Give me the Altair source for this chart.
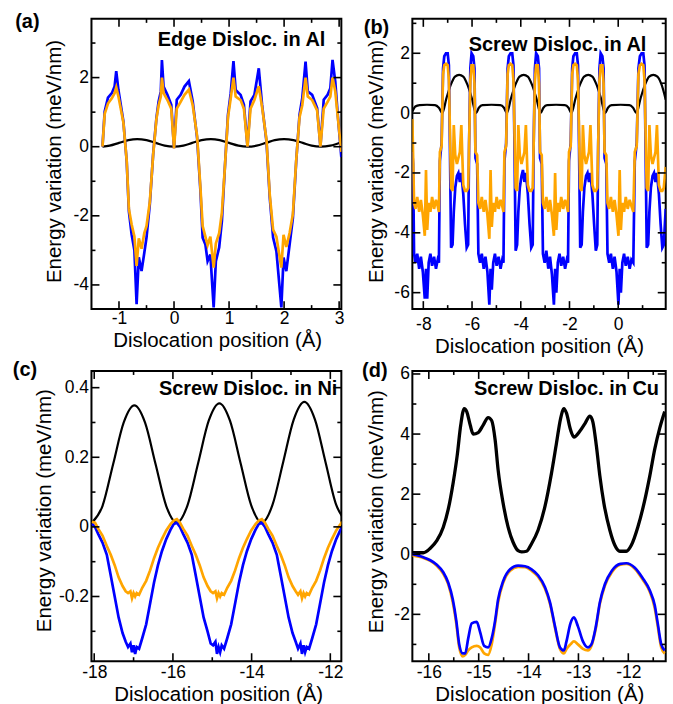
import altair as alt
import pandas as pd

FONT = "Liberation Sans"
BLUE = "#0000ff"
ORANGE = "#ffa500"
BLACK = "#000000"

XTITLE = "Dislocation position (Å)"
YTITLE = "Energy variation (meV/nm)"
panel_titles = ["Edge Disloc. in Al", "Screw Disloc. in Al", "Screw Disloc. in Ni", "Screw Disloc. in Cu"]
panel_labels = ["(a)", "(b)", "(c)", "(d)"]

# ---------------- panel (a) ----------------
a_xmaj = [-1, 0, 1, 2, 3]
a_xmin = [-0.5, 0.5, 1.5, 2.5]
a_ymaj = [-4, -2, 0, 2]
a_ymin = [-3, -1, 1, 3]

a_black_x = [-1.30, -1.17, -1.00, -0.83, -0.67, -0.50, -0.33, -0.17, 0.00, 0.17, 0.33, 0.50, 0.67, 0.83,
             1.00, 1.17, 1.335, 1.50, 1.67, 1.83, 2.00, 2.17, 2.34, 2.50, 2.67, 2.84, 3.04]
a_black_y = [0.0, 0.03, 0.11, 0.19, 0.22, 0.19, 0.11, 0.03, 0.0, 0.03, 0.11, 0.19, 0.22, 0.19,
             0.11, 0.03, 0.0, 0.03, 0.11, 0.19, 0.22, 0.19, 0.11, 0.03, 0.0, 0.03, 0.13]

a_x = [-1.30, -1.26, -1.20, -1.13, -1.08, -1.05, -1.01, -0.92, -0.86, -0.82, -0.77, -0.72, -0.68, -0.64,
       -0.59, -0.54, -0.50, -0.44, -0.38, -0.32, -0.28, -0.24, -0.22, -0.19, -0.12, -0.05,
       0.0, 0.05, 0.12, 0.19, 0.27, 0.34, 0.42, 0.48, 0.52, 0.57, 0.61, 0.66, 0.72, 0.76,
       0.82, 0.87, 0.92, 0.98, 1.03, 1.08, 1.12, 1.21, 1.27,
       1.335, 1.39, 1.46, 1.54, 1.60, 1.68, 1.74, 1.80, 1.86, 1.95, 1.99, 2.04, 2.10, 2.16,
       2.22, 2.28, 2.33, 2.39, 2.43, 2.51, 2.60,
       2.66, 2.72, 2.79, 2.84, 2.88, 2.93, 2.97, 3.04]
a_blue = [0.0, 1.02, 1.42, 1.55, 1.74, 2.19, 1.64, 0.73, -0.42, -1.87, -2.54, -3.0, -4.56, -3.2,
          -3.6, -3.07, -2.63, -1.67, -0.23, 0.83, 1.31, 1.6, 2.51, 1.74, 1.5, 1.21,
          -0.04, 1.36, 1.5, 1.74, 1.9, 1.31, 0.25, -1.29, -2.63, -2.83, -3.31, -3.12, -4.65, -3.31,
          -2.92, -2.15, -0.71, 0.92, 1.55, 2.48, 1.64, 1.5, 1.21,
          0.0, 1.31, 1.5, 2.27, 1.21, 0.15, -1.48, -2.63, -3.02, -4.65, -3.21, -3.6, -2.83, -2.06,
          -0.42, 0.92, 1.4, 2.46, 1.6, 1.5, 1.12,
          0.0, 1.36, 1.5, 1.69, 2.51, 1.88, 1.02, -0.3]
a_orange = [0.0, 0.95, 1.25, 1.4, 1.55, 1.72, 1.45, 0.7, -0.4, -1.8, -2.25, -2.6, -3.45, -2.65,
            -2.95, -2.5, -2.3, -1.6, -0.25, 0.8, 1.2, 1.45, 2.0, 1.55, 1.35, 1.1,
            -0.05, 1.1, 1.3, 1.5, 1.65, 1.2, 0.3, -1.2, -2.3, -2.6, -2.85, -2.6, -3.5, -2.8,
            -2.5, -1.9, -0.7, 0.85, 1.4, 2.0, 1.45, 1.35, 1.1,
            0.0, 1.1, 1.35, 1.75, 1.15, 0.2, -1.4, -2.4, -2.6, -3.5, -2.55, -2.9, -2.5, -1.95,
            -0.4, 0.85, 1.2, 2.0, 1.45, 1.35, 1.05,
            0.0, 1.1, 1.3, 1.45, 2.0, 1.6, 0.95, -0.15]

# ---------------- panel (b) ----------------
b_xmaj = [-8, -6, -4, -2, 0]
b_xmin = [-7, -5, -3, -1, 1]
b_ymaj = [-6, -4, -2, 0, 2]
b_ymin = [-5, -3, -1, 1, 3]

b_black_x = [-8.45, -8.33, -8.15, -7.85, -7.52, -7.36,
             -7.22, -7.05, -6.87, -6.70, -6.53, -6.36, -6.19, -6.01,
             -5.84, -5.72, -5.57, -5.20, -4.84, -4.69,
             -4.57, -4.40, -4.22, -4.05, -3.88, -3.71, -3.54, -3.36,
             -3.19, -3.07, -2.92, -2.55, -2.19, -2.04,
             -1.92, -1.75, -1.57, -1.40, -1.23, -1.06, -0.89, -0.71,
             -0.54, -0.42, -0.27, 0.10, 0.46, 0.61,
             0.75, 0.92, 1.10, 1.27, 1.44, 1.61, 1.78, 1.95]
b_black_y = [0.05, 0.22, 0.27, 0.28, 0.27, 0.18,
             0.0, 0.5, 0.95, 1.22, 1.28, 1.22, 0.95, 0.5,
             0.0, 0.18, 0.27, 0.28, 0.27, 0.18,
             0.0, 0.5, 0.95, 1.22, 1.28, 1.22, 0.95, 0.5,
             0.0, 0.18, 0.27, 0.28, 0.27, 0.18,
             0.0, 0.5, 0.95, 1.22, 1.28, 1.22, 0.95, 0.5,
             0.0, 0.18, 0.27, 0.28, 0.27, 0.18,
             0.0, 0.5, 0.95, 1.22, 1.28, 1.22, 0.95, 0.45]

b_x = [-8.45, -8.42, -8.38, -8.32, -8.25, -8.17, -8.10, -8.02, -7.94, -7.89, -7.84, -7.78, -7.71, -7.64,
       -7.56, -7.48, -7.41,
       -7.36, -7.32, -7.25, -7.19, -7.14, -7.07, -7.00, -6.95, -6.91, -6.86, -6.80, -6.75, -6.69, -6.62,
       -6.56, -6.50, -6.44, -6.36, -6.29, -6.22, -6.16, -6.12, -6.07, -6.02, -5.95, -5.90, -5.86, -5.79,
       -5.74, -5.67, -5.60, -5.52, -5.45, -5.37, -5.29, -5.24, -5.19, -5.13, -5.06, -4.99, -4.91, -4.83,
       -4.76,
       -4.71, -4.67, -4.60, -4.54, -4.49, -4.42, -4.35, -4.30, -4.26, -4.21, -4.15, -4.10, -4.04, -3.97,
       -3.91, -3.85, -3.79, -3.71, -3.64, -3.57, -3.51, -3.47, -3.42, -3.37, -3.30, -3.25, -3.21, -3.14,
       -3.09, -3.02, -2.95, -2.87, -2.80, -2.72, -2.64, -2.59, -2.54, -2.48, -2.41, -2.34, -2.26, -2.18,
       -2.11,
       -2.06, -2.02, -1.95, -1.89, -1.84, -1.77, -1.70, -1.65, -1.61, -1.56, -1.50, -1.45, -1.39, -1.32,
       -1.26, -1.20, -1.14, -1.06, -0.99, -0.92, -0.86, -0.82, -0.77, -0.72, -0.65, -0.60, -0.56, -0.49,
       -0.44, -0.37, -0.30, -0.22, -0.15, -0.07, 0.01, 0.06, 0.11, 0.17, 0.24, 0.31, 0.39, 0.47,
       0.54,
       0.62, 0.68, 0.76, 0.83, 0.89, 0.96, 1.03, 1.08, 1.12, 1.17, 1.23, 1.28, 1.34, 1.41,
       1.47, 1.53, 1.59, 1.67, 1.74, 1.81, 1.87, 1.95]
b_blue = [-1.3, -1.7, -4.7, -5.0, -4.7, -5.2, -4.8, -5.3, -6.2, -5.2, -6.2, -5.0, -4.7, -5.1,
          -4.8, -5.2, -4.9,
          -5.0, -1.6, -1.0, 1.5, 1.9, 2.0, 2.0, 1.6, -1.0, -4.5, -4.4, -3.3, -2.5, -2.1,
          -2.0, -2.3, -2.0, -2.7, -3.7, -4.5, -4.4, -1.0, 1.5, 2.0, 1.9, 1.5, -1.5, -1.7,
          -4.7, -5.0, -4.7, -5.2, -4.8, -5.3, -6.4, -5.2, -5.9, -5.0, -4.7, -5.1, -4.8, -5.2,
          -4.9,
          -5.0, -1.6, -1.0, 1.5, 1.9, 2.0, 2.0, 1.6, -1.0, -4.6, -4.4, -3.3, -2.5, -2.1,
          -1.9, -2.3, -2.0, -2.7, -3.7, -4.5, -4.4, -1.0, 1.5, 2.0, 1.9, 1.5, -1.5, -1.7,
          -4.7, -5.0, -4.6, -5.2, -4.8, -5.4, -6.4, -5.2, -6.0, -5.0, -4.7, -5.1, -4.8, -5.2,
          -4.9,
          -5.0, -1.6, -1.0, 1.5, 1.9, 2.0, 2.0, 1.6, -1.0, -4.5, -4.4, -3.3, -2.5, -2.1,
          -2.0, -2.3, -2.0, -2.7, -3.7, -4.6, -4.4, -1.0, 1.5, 2.0, 1.9, 1.5, -1.5, -1.7,
          -4.7, -5.0, -4.7, -5.2, -4.8, -5.3, -6.4, -5.2, -6.0, -5.0, -4.7, -5.1, -4.8, -5.2,
          -4.9,
          -5.0, -1.6, -1.0, 1.5, 1.9, 2.0, 2.0, 1.6, -1.0, -4.5, -4.4, -3.3, -2.5, -2.1,
          -2.0, -2.3, -2.0, -2.7, -3.7, -4.5, -4.4, -3.2]
b_orange = [-0.2, -1.4, -3.0, -3.2, -2.8, -3.3, -2.9, -3.4, -4.1, -1.9, -3.9, -3.0, -3.3, -2.8,
            -3.2, -2.9, -3.1,
            -3.3, -1.3, -1.1, 1.3, 1.6, 1.65, 1.6, 1.1, -0.5, -2.5, -2.6, -0.4, -1.4, -1.7,
            -1.5, -1.3, -0.4, -2.4, -2.6, -2.6, -2.5, -1.0, 1.1, 1.6, 1.6, 1.0, -1.3, -1.4,
            -3.0, -3.2, -2.8, -3.3, -2.9, -3.4, -4.2, -1.9, -3.8, -3.0, -3.3, -2.8, -3.2, -2.9,
            -3.1,
            -3.3, -1.3, -1.1, 1.3, 1.6, 1.65, 1.6, 1.1, -0.5, -2.5, -2.6, -0.4, -1.4, -1.7,
            -1.5, -1.3, -0.4, -2.4, -2.6, -2.6, -2.5, -1.0, 1.1, 1.6, 1.6, 1.0, -1.3, -1.4,
            -3.0, -3.2, -2.8, -3.3, -2.9, -3.4, -4.1, -2.0, -3.9, -3.0, -3.3, -2.8, -3.2, -2.9,
            -3.1,
            -3.3, -1.3, -1.1, 1.3, 1.6, 1.65, 1.6, 1.1, -0.5, -2.5, -2.6, -0.4, -1.4, -1.7,
            -1.5, -1.3, -0.4, -2.4, -2.6, -2.6, -2.5, -1.0, 1.1, 1.6, 1.6, 1.0, -1.3, -1.4,
            -3.0, -3.2, -2.8, -3.3, -2.9, -3.4, -4.1, -1.9, -3.9, -3.0, -3.3, -2.8, -3.2, -2.9,
            -3.1,
            -3.3, -1.3, -1.1, 1.3, 1.6, 1.65, 1.6, 1.1, -0.5, -2.5, -2.6, -0.4, -1.4, -1.7,
            -1.5, -1.3, -0.4, -2.4, -2.6, -2.6, -2.5, -1.8]

# ---------------- panel (c) ----------------
c_xmaj = [-18, -16, -14, -12]
c_xmin = [-17, -15, -13]
c_ymaj = [-0.2, 0, 0.2, 0.4]
c_ymin = [-0.3, -0.1, 0.1, 0.3]

c_black_x = [-18.06, -17.79, -17.52, -17.25, -16.98, -16.71, -16.44, -16.17, -15.90, -15.63, -15.36,
             -15.09, -14.82, -14.55, -14.28, -14.01, -13.74, -13.47, -13.20, -12.93, -12.66, -12.39,
             -12.12, -11.85, -11.70]
c_black_y = [0.012, 0.06, 0.18, 0.30, 0.349, 0.30, 0.18, 0.06, 0.012, 0.062, 0.183,
             0.305, 0.355, 0.305, 0.183, 0.062, 0.012, 0.063, 0.185, 0.308, 0.359, 0.308,
             0.185, 0.063, 0.03]

c_x = [-18.06, -17.98, -17.90, -17.79, -17.68, -17.58, -17.48, -17.38, -17.28, -17.20, -17.14, -17.08,
       -17.04, -17.00, -16.96, -16.92, -16.86, -16.78, -16.68, -16.58, -16.48, -16.38, -16.28, -16.17,
       -16.06, -15.98,
       -15.90, -15.82, -15.74, -15.63, -15.52, -15.42, -15.32, -15.22, -15.12, -15.04, -14.98, -14.92,
       -14.88, -14.84, -14.80, -14.76, -14.70, -14.62, -14.52, -14.42, -14.32, -14.22, -14.12, -14.01,
       -13.90, -13.82,
       -13.74, -13.66, -13.58, -13.47, -13.36, -13.26, -13.16, -13.06, -12.96, -12.88, -12.82, -12.76,
       -12.72, -12.68, -12.64, -12.60, -12.54, -12.46, -12.36, -12.26, -12.16, -12.06, -11.96, -11.85,
       -11.74, -11.70]
c_blue = [0.01, 0.0, -0.02, -0.045, -0.08, -0.14, -0.20, -0.26, -0.305, -0.33, -0.345, -0.335,
          -0.36, -0.34, -0.365, -0.345, -0.35, -0.32, -0.28, -0.22, -0.16, -0.11, -0.07, -0.035,
          -0.008, 0.008,
          0.012, 0.0, -0.02, -0.045, -0.08, -0.14, -0.20, -0.26, -0.30, -0.335, -0.34, -0.33,
          -0.365, -0.345, -0.36, -0.34, -0.35, -0.32, -0.28, -0.22, -0.16, -0.11, -0.07, -0.035,
          -0.008, 0.008,
          0.012, 0.0, -0.02, -0.045, -0.08, -0.14, -0.20, -0.26, -0.305, -0.33, -0.35, -0.335,
          -0.365, -0.34, -0.36, -0.345, -0.35, -0.32, -0.28, -0.22, -0.16, -0.11, -0.07, -0.035,
          -0.008, 0.0]
c_orange = [0.015, 0.012, -0.005, -0.025, -0.055, -0.08, -0.11, -0.145, -0.17, -0.185, -0.19, -0.185,
            -0.205, -0.19, -0.20, -0.19, -0.195, -0.175, -0.155, -0.125, -0.09, -0.06, -0.035, -0.01,
            0.008, 0.018,
            0.022, 0.012, -0.005, -0.025, -0.055, -0.08, -0.11, -0.145, -0.17, -0.185, -0.19, -0.185,
            -0.205, -0.19, -0.20, -0.19, -0.195, -0.175, -0.155, -0.125, -0.09, -0.06, -0.035, -0.01,
            0.008, 0.018,
            0.022, 0.012, -0.005, -0.025, -0.055, -0.08, -0.11, -0.145, -0.17, -0.185, -0.195, -0.185,
            -0.205, -0.19, -0.20, -0.19, -0.195, -0.175, -0.155, -0.125, -0.09, -0.06, -0.035, -0.01,
            0.008, 0.015]

# ---------------- panel (d) ----------------
d_xmaj = [-16, -15, -14, -13, -12]
d_xmin = [-15.5, -14.5, -13.5, -12.5, -11.5]
d_ymaj = [-2, 0, 2, 4, 6]
d_ymin = [-3, -1, 1, 3, 5]

d_black_x = [-16.33, -16.11, -15.97, -15.84, -15.71, -15.61, -15.51, -15.43, -15.36, -15.29, -15.24,
             -15.17, -15.11, -15.01, -14.91, -14.81, -14.74, -14.67, -14.61, -14.51, -14.41, -14.31,
             -14.21, -14.14, -14.04, -13.94, -13.81, -13.67, -13.54, -13.44, -13.36, -13.29, -13.24,
             -13.16, -13.09, -12.97, -12.87, -12.77, -12.71, -12.64, -12.57, -12.49, -12.37, -12.27,
             -12.17, -12.04, -11.94, -11.81, -11.67, -11.57, -11.47, -11.37, -11.27]
d_black_y = [0.05, 0.05, 0.2, 0.45, 0.9, 1.5, 2.4, 3.3, 4.3, 4.85, 4.75,
             4.3, 4.0, 4.05, 4.3, 4.55, 4.45, 3.8, 2.8, 1.7, 0.9, 0.4,
             0.12, 0.08, 0.1, 0.35, 0.8, 1.6, 2.7, 3.7, 4.5, 4.85, 4.7,
             4.15, 3.9, 4.1, 4.35, 4.6, 4.4, 3.6, 2.6, 1.7, 0.8, 0.3,
             0.1, 0.1, 0.3, 0.9, 1.8, 2.6, 3.5, 4.2, 4.75]

d_x = [-16.33, -16.11, -15.97, -15.84, -15.71, -15.61, -15.52, -15.45, -15.39, -15.32, -15.27,
       -15.21, -15.14, -15.04, -14.97, -14.89, -14.81, -14.74, -14.67, -14.61, -14.51, -14.37,
       -14.21, -14.07, -13.94, -13.81, -13.67, -13.57, -13.47, -13.37, -13.29, -13.24, -13.16,
       -13.09, -13.01, -12.91, -12.81, -12.74, -12.65, -12.57, -12.47, -12.33, -12.16, -12.04,
       -11.87, -11.71, -11.57, -11.47, -11.41, -11.34, -11.27]
d_blue = [0.0, -0.1, -0.2, -0.35, -0.6, -0.95, -1.5, -2.2, -3.0, -3.3, -3.3,
          -2.8, -2.3, -2.25, -2.6, -3.05, -3.1, -2.8, -2.2, -1.5, -0.9, -0.5,
          -0.38, -0.4, -0.5, -0.7, -1.1, -1.6, -2.4, -3.1, -3.2, -2.9, -2.3,
          -2.1, -2.4, -2.9, -3.1, -3.0, -2.4, -1.6, -1.0, -0.55, -0.32, -0.3,
          -0.45, -0.8, -1.2, -1.7, -2.3, -3.0, -3.2]
d_orange = [-0.05, -0.12, -0.22, -0.38, -0.65, -1.0, -1.6, -2.3, -3.1, -3.4, -3.35,
            -3.2, -3.1, -3.05, -3.1, -3.3, -3.35, -3.0, -2.3, -1.6, -0.95, -0.55,
            -0.42, -0.43, -0.55, -0.75, -1.15, -1.65, -2.45, -3.15, -3.3, -3.15, -3.0,
            -2.9, -3.0, -3.15, -3.2, -3.05, -2.45, -1.65, -1.05, -0.6, -0.35, -0.32,
            -0.48, -0.85, -1.25, -1.8, -2.4, -3.1, -3.3]

LABEL_EXPR = "replace(format(datum.value, '~g'), '\u2212', '-')"
LABEL_SIZE = 17.5
TITLE_SIZE = 20.5


def make_panel(W, H, xdom, ydom, lines, xmaj, xmin, ymaj, ymin, title, title_pos, label, label_pos,
               ytitle_pos, xtitle_pos, xlab_pad):
    xs = alt.Scale(domain=xdom, nice=False, zero=False)
    ys = alt.Scale(domain=ydom, nice=False, zero=False)
    xax = alt.Axis(title=XTITLE, values=xmaj, ticks=False, tickSize=0, domain=False, grid=False,
                   labelFont=FONT, labelFontSize=LABEL_SIZE, labelColor=BLACK, labelPadding=xlab_pad,
                   labelBaseline="alphabetic", labelFlush=False, labelOverlap=False,
                   labelExpr=LABEL_EXPR,
                   titleFont=FONT, titleFontSize=TITLE_SIZE, titleFontWeight="normal", titleColor=BLACK,
                   titleX=xtitle_pos[0], titleY=xtitle_pos[1], titleBaseline="alphabetic",
                   titleAlign="center")
    yax = alt.Axis(title=YTITLE, values=ymaj, ticks=False, tickSize=0, domain=False, grid=False,
                   labelFont=FONT, labelFontSize=LABEL_SIZE, labelColor=BLACK, labelPadding=3,
                   labelBaseline="middle", labelAlign="right", labelFlush=False, labelOverlap=False,
                   labelExpr=LABEL_EXPR,
                   titleFont=FONT, titleFontSize=TITLE_SIZE, titleFontWeight="normal", titleColor=BLACK,
                   titleX=ytitle_pos[0], titleY=ytitle_pos[1], titleAngle=270,
                   titleBaseline="alphabetic", titleAlign="center")
    layers = []
    for (xv, yv, color, sw, interp) in lines:
        df = pd.DataFrame({"x": xv, "y": yv})
        layers.append(
            alt.Chart(df).mark_line(color=color, strokeWidth=sw, interpolate=interp, clip=True).encode(
                x=alt.X("x:Q", scale=xs, axis=xax),
                y=alt.Y("y:Q", scale=ys, axis=yax),
            )
        )
    # inward ticks on all four sides
    for vals, L in ((xmaj, 8), (xmin, 4)):
        tdf = pd.DataFrame({"x": vals})
        layers.append(alt.Chart(tdf).mark_rule(color=BLACK, strokeWidth=1.6).encode(
            x=alt.X("x:Q", scale=xs, axis=xax), y=alt.value(H), y2=alt.value(H - L)))
        layers.append(alt.Chart(tdf).mark_rule(color=BLACK, strokeWidth=1.6).encode(
            x=alt.X("x:Q", scale=xs, axis=xax), y=alt.value(0), y2=alt.value(L)))
    for vals, L in ((ymaj, 8), (ymin, 4)):
        tdf = pd.DataFrame({"y": vals})
        layers.append(alt.Chart(tdf).mark_rule(color=BLACK, strokeWidth=1.6).encode(
            y=alt.Y("y:Q", scale=ys, axis=yax), x=alt.value(0), x2=alt.value(L)))
        layers.append(alt.Chart(tdf).mark_rule(color=BLACK, strokeWidth=1.6).encode(
            y=alt.Y("y:Q", scale=ys, axis=yax), x=alt.value(W), x2=alt.value(W - L)))
    layers.append(alt.Chart(pd.DataFrame({"t": [title]})).mark_text(
        font=FONT, fontSize=20, fontWeight="bold", align="right", baseline="alphabetic", color=BLACK
    ).encode(x=alt.value(title_pos[0]), y=alt.value(title_pos[1]), text="t:N"))
    layers.append(alt.Chart(pd.DataFrame({"t": [label]})).mark_text(
        font=FONT, fontSize=20, fontWeight="bold", align="left", baseline="alphabetic", color=BLACK
    ).encode(x=alt.value(label_pos[0]), y=alt.value(label_pos[1]), text="t:N"))
    return alt.layer(*layers).properties(width=W, height=H)


W1, W2, H = 250.5, 254, 291

pa = make_panel(W1, H, [-1.5, 3.04], [-4.7, 3.7],
                [(a_black_x, a_black_y, BLACK, 2.2, "monotone"),
                 (a_x, a_blue, BLUE, 2.7, "linear"),
                 (a_x, a_orange, ORANGE, 2.7, "linear")],
                a_xmaj, a_xmin, a_ymaj, a_ymin,
                panel_titles[0], (234.5, 26.8), panel_labels[0], (-76.5, 9.5),
                (-31, 142.5), (126, 37.5), 14.2)

pb = make_panel(W2, H, [-8.45, 1.95], [-6.55, 3.15],
                [(b_black_x, b_black_y, BLACK, 2.2, "monotone"),
                 (b_x, b_blue, BLUE, 2.7, "linear"),
                 (b_x, b_orange, ORANGE, 2.7, "linear")],
                b_xmaj, b_xmin, b_ymaj, b_ymin,
                panel_titles[1], (234.6, 31.8), panel_labels[1], (-48.7, 15.2),
                (-29.7, 142.5), (127, 43.5), 20.2)

pc = make_panel(W1, H, [-18.07, -11.72], [-0.386, 0.448],
                [(c_black_x, c_black_y, BLACK, 2.2, "monotone"),
                 (c_x, c_blue, BLUE, 2.7, "linear"),
                 (c_x, c_orange, ORANGE, 2.7, "linear")],
                c_xmaj, c_xmin, c_ymaj, c_ymin,
                panel_titles[2], (246.5, 23.8), panel_labels[2], (-78.8, 5.5),
                (-41.5, 139.5), (127, 39.5), 16.2)

pdd = make_panel(W2, H, [-16.33, -11.25], [-3.56, 6.1],
                 [(d_black_x, d_black_y, BLACK, 3.3, "monotone"),
                  (d_x, d_orange, ORANGE, 2.7, "monotone"),
                  (d_x, d_blue, BLUE, 2.7, "monotone")],
                 d_xmaj, d_xmin, d_ymaj, d_ymin,
                 panel_titles[3], (247.3, 23.8), panel_labels[3], (-50.4, 6.5),
                 (-29.7, 140.5), (127.3, 39.5), 16.8)

chart = alt.concat(pa, pb, pc, pdd, columns=2, spacing={"row": 62, "column": 70.7}, bounds="flush").properties(
    padding={"left": 11.7, "top": 10, "right": 5, "bottom": 5}
).configure_view(stroke=BLACK, strokeWidth=2)

chart.save("out.html", embed_options={"renderer": "svg", "actions": False})
